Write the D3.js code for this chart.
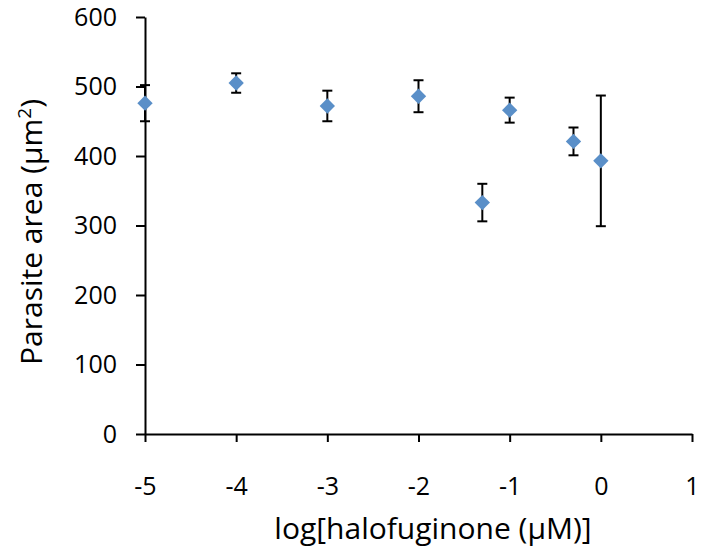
<!DOCTYPE html>
<html>
<head>
<meta charset="utf-8">
<script src="https://cdn.jsdelivr.net/npm/d3@7"></script>
<style>
  body { margin: 0; background: #fff; }
  text { font-family: "Open Sans", sans-serif; fill: #000; }
</style>
</head>
<body>
<svg width="702" height="558"></svg>
<script>
// data
const logConc = [-5, -4, -3, -2, -1.3, -1, -0.3, 0];
const area    = [476, 505, 472, 486, 333, 466, 421, 393];
const errBar  = [26, 14, 22, 23, 27, 18, 20, 94];
const xTicks = [-5, -4, -3, -2, -1, 0, 1];
const yTicks = [0, 100, 200, 300, 400, 500, 600];

const svg = d3.select('svg');
const margin = { top: 17, right: 10, bottom: 124, left: 145 };
const innerWidth = 692 - margin.left;
const innerHeight = 434 - margin.top;

const g = svg.append('g')
    .attr('transform', `translate(${margin.left},${margin.top})`);

const x = d3.scaleLinear().domain([-5, 1]).range([0, innerWidth]);
const y = d3.scaleLinear().domain([0, 600]).range([innerHeight, 0]);

// y axis
const yAxis = g.append('g')
    .call(d3.axisLeft(y).tickValues(yTicks).tickSize(9).tickPadding(19).tickSizeOuter(0))
    .attr('font-size', 25)
    .attr('font-family', 'Open Sans, sans-serif');
yAxis.select('.domain').attr('stroke-width', 2);
yAxis.selectAll('.tick line').attr('stroke-width', 2);

// x axis, plain hyphen for negatives like the original
const xAxis = g.append('g')
    .attr('transform', `translate(0,${innerHeight})`)
    .call(d3.axisBottom(x).tickValues(xTicks).tickFormat(d => String(d))
        .tickSize(8).tickPadding(35).tickSizeOuter(0))
    .attr('font-size', 25)
    .attr('font-family', 'Open Sans, sans-serif');
xAxis.select('.domain').attr('stroke-width', 2);
xAxis.selectAll('.tick line').attr('stroke-width', 2);

const data = logConc.map((v, i) => ({ x: v, y: area[i], e: errBar[i] }));

// error bars
const eb = g.selectAll('.err').data(data).enter().append('g')
    .attr('class', 'err')
    .attr('stroke', '#000')
    .attr('stroke-width', 2);
eb.append('line')
    .attr('x1', d => x(d.x)).attr('x2', d => x(d.x))
    .attr('y1', d => y(d.y + d.e)).attr('y2', d => y(d.y - d.e));
eb.append('line')
    .attr('x1', d => x(d.x) - 5).attr('x2', d => x(d.x) + 5)
    .attr('y1', d => y(d.y + d.e)).attr('y2', d => y(d.y + d.e));
eb.append('line')
    .attr('x1', d => x(d.x) - 5).attr('x2', d => x(d.x) + 5)
    .attr('y1', d => y(d.y - d.e)).attr('y2', d => y(d.y - d.e));

// diamonds
g.selectAll('.pt').data(data).enter().append('path')
    .attr('class', 'pt')
    .attr('d', d3.symbol().type(d3.symbolDiamond2).size(150))
    .attr('transform', d => `translate(${x(d.x)},${y(d.y)})`)
    .attr('fill', '#5a8fc8');

// axis titles
svg.append('text')
    .attr('x', 433).attr('y', 539)
    .attr('text-anchor', 'middle')
    .attr('font-size', 30)
    .text('log[halofuginone (\u03BCM)]');

const yt = svg.append('text')
    .attr('transform', 'translate(42,232) rotate(-90)')
    .attr('text-anchor', 'middle')
    .attr('font-size', 30);
yt.append('tspan').text('Parasite area (\u03BCm');
yt.append('tspan').attr('dy', -11).attr('font-size', 19).text('2');
yt.append('tspan').attr('dy', 11).text(')');
</script>
</body>
</html>
